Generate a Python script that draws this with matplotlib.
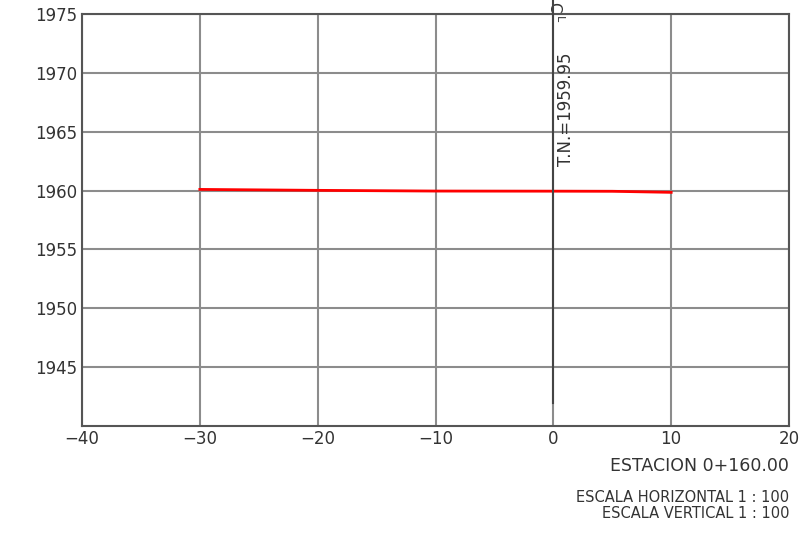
import matplotlib
matplotlib.use("Agg")
import matplotlib.pyplot as plt

# terrain profile (offset vs elevation)
offset = [-30, -20, -10, 0, 5, 10]
elev = [1960.1, 1960.02, 1959.96, 1959.95, 1959.94, 1959.85]
xticks = [-40, -30, -20, -10, 0, 10, 20]
yticks = [1945, 1950, 1955, 1960, 1965, 1970, 1975]
tn_label = "T.N.=1959.95"
station = "ESTACION 0+160.00"
scales = ["ESCALA HORIZONTAL 1 : 100", "ESCALA VERTICAL 1 : 100"]

txt = "#333333"
fig = plt.figure(figsize=(8.08, 5.36), dpi=100)
ax = fig.add_axes([0.1015, 0.205, 0.875, 0.769])
ax.set_xlim(-40, 20)
ax.set_ylim(1940, 1975)
ax.set_xticks(xticks)
ax.set_yticks(yticks)
ax.set_xticklabels([str(t).replace("-", "\u2212") for t in xticks])
ax.tick_params(length=0, labelsize=12, colors=txt)
ax.tick_params(axis="x", pad=3)
ax.grid(True, color="#8c8c8c", lw=1.5)
for s in ax.spines.values():
    s.set_color("#555555")
    s.set_linewidth(1.5)

ax.plot(offset, elev, color="red", lw=2, zorder=3)

# center line
ax.plot([0, 0], [1942, 1977], color="#444444", lw=1.5, clip_on=False, zorder=4)
ax.text(0, 1975.6, "C", rotation=-90, ha="center", va="center", fontsize=11,
        color=txt, clip_on=False)
ax.text(0.5, 1974.6, "L", rotation=-90, ha="center", va="center", fontsize=8,
        color=txt, clip_on=False)
ax.text(1.1, 1962.1, tn_label, rotation=90, ha="center", va="bottom",
        fontsize=12, color=txt)

fig.text(789 / 808, 1 - 466 / 536, station, ha="right", va="center",
         fontsize=12.5, color=txt)
fig.text(789 / 808, 1 - 497 / 536, scales[0], ha="right", va="center",
         fontsize=10.5, color=txt)
fig.text(789 / 808, 1 - 513 / 536, scales[1], ha="right", va="center",
         fontsize=10.5, color=txt)

fig.savefig("out.png", dpi=100)
